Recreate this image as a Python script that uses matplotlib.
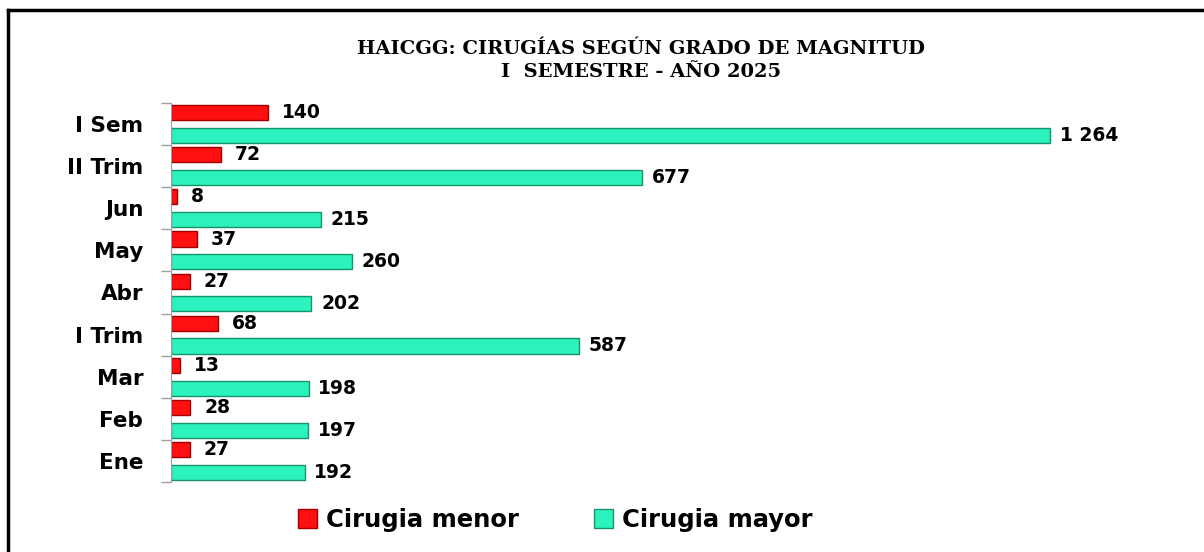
import matplotlib.pyplot as plt
from matplotlib.lines import Line2D
from matplotlib.patches import Patch
import numpy as np

# donnees (du bas vers le haut)
categorias = ["Ene", "Feb", "Mar", "I Trim", "Abr", "May", "Jun", "II Trim", "I Sem"]
menor = [27, 28, 13, 68, 27, 37, 8, 72, 140]
mayor = [192, 197, 198, 587, 202, 260, 215, 677, 1264]
etiq_mayor = ["192", "197", "198", "587", "202", "260", "215", "677", "1 264"]

rojo = "#FF1010"
verde = "#2CF2BE"

fig = plt.figure(figsize=(12.04, 5.52), dpi=100)
ax = fig.add_axes([171/1204, 1-482/552, 979/1204, 379/552])

y = np.arange(len(categorias))
h = 0.36
b1 = ax.barh(y + 0.27, menor, height=h, color=rojo, edgecolor="#A00000", linewidth=1)
b2 = ax.barh(y - 0.27, mayor, height=h, color=verde, edgecolor="#17946A", linewidth=1)

for i in range(len(y)):
    ax.annotate(str(menor[i]), (menor[i], y[i] + 0.27), xytext=(10, 0), textcoords="offset points",
                va="center", ha="left", fontsize=13.5, fontweight="bold")
    ax.annotate(etiq_mayor[i], (mayor[i], y[i] - 0.27), xytext=(7, 0), textcoords="offset points",
                va="center", ha="left", fontsize=13.5, fontweight="bold")

ax.set_xlim(0, 979/0.6955)
ax.set_ylim(-0.5, len(categorias) - 0.5)
ax.set_xticks([])
ax.set_yticks(y)
ax.set_yticklabels(categorias, fontsize=15.5, fontweight="bold")
ax.tick_params(axis="y", which="major", length=0, pad=20)
ax.set_yticks(np.arange(-0.5, len(categorias), 1), minor=True)
ax.tick_params(axis="y", which="minor", length=7.2, color="#A0A0A0", width=1)
for s in ["top", "right", "bottom"]:
    ax.spines[s].set_visible(False)
ax.spines["left"].set_color("#A0A0A0")

# titre
fig.text(641/1204, 1-49/552, "HAICGG: CIRUGÍAS SEGÚN GRADO DE MAGNITUD", ha="center", va="center",
         fontsize=14, fontweight="bold", family="DejaVu Serif")
fig.text(641/1204, 1-72/552, "I  SEMESTRE - AÑO 2025", ha="center", va="center",
         fontsize=14, fontweight="bold", family="DejaVu Serif")

# legende
poignees = [Patch(facecolor=rojo, edgecolor="#A00000"), Patch(facecolor=verde, edgecolor="#17946A")]
fig.legend(poignees, ["Cirugia menor", "Cirugia mayor"], loc="center", bbox_to_anchor=(555/1204, 1-520/552),
           ncol=2, frameon=False, prop={"size": 17.5, "weight": "bold"}, handlelength=0.78, handleheight=0.78,
           handletextpad=0.37, columnspacing=3.1)

# cadre
fig.add_artist(Line2D([8/1204, 8/1204], [0, 1-10/552], color="black", lw=2.5))
fig.add_artist(Line2D([8/1204, 1], [1-10/552, 1-10/552], color="black", lw=2.5))

fig.savefig("out.png", dpi=100)
